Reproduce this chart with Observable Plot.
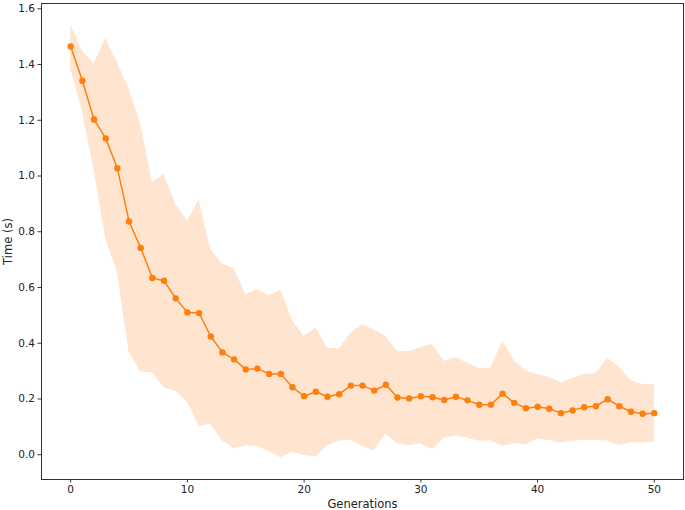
<!DOCTYPE html>
<html>
<head>
<meta charset="utf-8">
<script src="https://cdn.jsdelivr.net/npm/d3@7"></script>
<script src="https://cdn.jsdelivr.net/npm/@observablehq/plot@0.6"></script>
<style>
  html, body { margin: 0; padding: 0; background: #fff; }
  svg { display: block; }
</style>
</head>
<body>
<div id="chart"></div>
<script>
const generations = [0,1,2,3,4,5,6,7,8,9,10,11,12,13,14,15,16,17,18,19,20,21,22,23,24,25,26,27,28,29,30,31,32,33,34,35,36,37,38,39,40,41,42,43,44,45,46,47,48,49,50];
const meanTime = [1.465,1.342,1.203,1.135,1.028,0.837,0.742,0.634,0.624,0.561,
  0.510,0.508,0.424,0.367,0.342,0.306,0.309,0.290,0.290,0.242,
  0.210,0.226,0.208,0.217,0.248,0.248,0.230,0.251,0.205,0.202,
  0.210,0.206,0.196,0.208,0.195,0.179,0.179,0.219,0.186,0.167,
  0.172,0.165,0.149,0.159,0.170,0.174,0.199,0.174,0.154,0.147,0.149];
const upperTime = [1.543,1.449,1.401,1.493,1.407,1.312,1.186,0.977,1.005,0.900,
  0.837,0.914,0.735,0.685,0.667,0.575,0.591,0.570,0.591,0.481,
  0.424,0.455,0.382,0.379,0.437,0.466,0.448,0.424,0.370,0.370,
  0.385,0.395,0.334,0.348,0.328,0.310,0.310,0.407,0.338,0.300,
  0.287,0.278,0.258,0.273,0.288,0.291,0.346,0.314,0.266,0.252,0.252];
const lowerTime = [1.383,1.234,1.020,0.776,0.655,0.368,0.298,0.294,0.239,0.228,
  0.189,0.101,0.109,0.049,0.021,0.032,0.029,0.012,-0.012,0.009,
  -0.003,-0.007,0.031,0.049,0.051,0.029,0.014,0.074,0.038,0.033,
  0.038,0.019,0.060,0.067,0.060,0.048,0.049,0.030,0.039,0.035,
  0.056,0.051,0.042,0.048,0.051,0.052,0.049,0.033,0.043,0.043,0.045];
const xTicks = [0,10,20,30,40,50];
const yTicks = [0.0,0.2,0.4,0.6,0.8,1.0,1.2,1.4,1.6];

const data = generations.map((g, i) => ({gen: g, mean: meanTime[i], lo: lowerTime[i], hi: upperTime[i]}));

const color = "#ff7f0e";
const axisColor = "#333";

const chart = Plot.plot({
  width: 685,
  height: 510,
  marginLeft: 41,
  marginRight: 2,
  marginTop: 3,
  marginBottom: 31,
  style: {fontFamily: "DejaVu Sans", fontSize: "10.5px", color: "#222", background: "#fff"},
  x: {domain: [-2.5, 52.5]},
  y: {domain: [-0.089, 1.619]},
  marks: [
    Plot.areaY(data, {x: "gen", y1: "lo", y2: "hi", fill: color, fillOpacity: 0.2}),
    Plot.lineY(data, {x: "gen", y: "mean", stroke: color, strokeWidth: 1.5}),
    Plot.dot(data, {x: "gen", y: "mean", r: 3.2, fill: color, stroke: "none"}),
    Plot.frame({stroke: axisColor, strokeWidth: 1}),
    Plot.axisX({ticks: xTicks, tickSize: 3.5, tickPadding: 3, stroke: axisColor, label: null, tickFormat: d3.format("d")}),
    Plot.axisY({ticks: yTicks, tickSize: 3.5, tickPadding: 3, stroke: axisColor, label: null, tickFormat: d3.format(".1f")}),
    Plot.text(["Time (s)"], {frameAnchor: "left", dx: -33, rotate: -90, textAnchor: "middle", lineAnchor: "middle", fontSize: 11.5, fill: "#222"}),
    Plot.text(["Generations"], {frameAnchor: "bottom", dy: 25, textAnchor: "middle", lineAnchor: "middle", fontSize: 11.5, fill: "#222"})
  ]
});
document.getElementById("chart").appendChild(chart);
</script>
</body>
</html>
